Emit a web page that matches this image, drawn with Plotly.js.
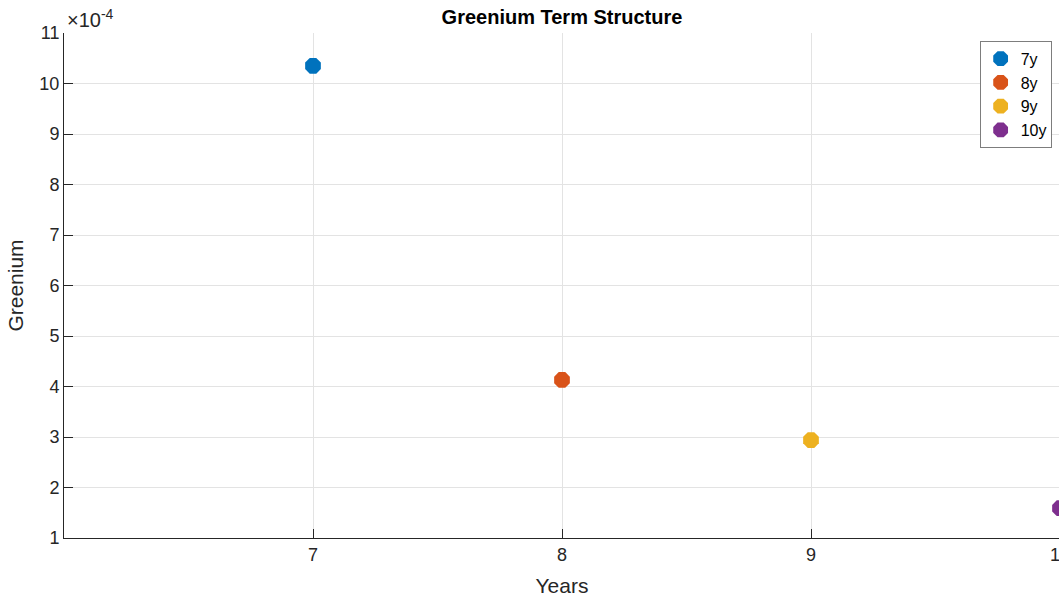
<!DOCTYPE html>
<html>
<head>
<meta charset="utf-8">
<script src="https://cdn.plot.ly/plotly-3.0.1.min.js"></script>
<style>
  html, body { margin: 0; padding: 0; overflow: hidden; background: #fff; }
  #chart { width: 1100px; height: 601px; }
</style>
</head>
<body>
<div id="chart"></div>
<script>
// Greenium by maturity bucket
const seriesNames = ['7y', '8y', '9y', '10y'];
const years = [7, 8, 9, 10];
const greenium = [0.001035, 0.000413, 0.000294, 0.000159];
const colors = ['#0072BD', '#D95319', '#EDB120', '#7E2F8E'];

const yTickVals = [1, 2, 3, 4, 5, 6, 7, 8, 9, 10, 11].map(v => v * 1e-4);
const yTickText = ['1', '2', '3', '4', '5', '6', '7', '8', '9', '10', '11'];
const xTickVals = [7, 8, 9, 10];
const xTickText = ['7', '8', '9', '10'];

const font = 'Liberation Sans, Arial, Helvetica, sans-serif';

const traces = seriesNames.map((name, i) => ({
  type: 'scatter',
  mode: 'markers',
  name: name,
  x: [years[i]],
  y: [greenium[i]],
  cliponaxis: true,
  marker: { symbol: 'octagon', size: 17, color: colors[i], line: { width: 0 } }
}));

const W = 1100;
const layout = {
  width: W,
  height: 601,
  margin: { l: 64, r: W - 1060, t: 33, b: 63, pad: 0 },
  paper_bgcolor: '#ffffff',
  plot_bgcolor: '#ffffff',
  font: { family: font, size: 18, color: '#262626' },
  title: {
    text: '<b>Greenium Term Structure</b>',
    font: { family: font, size: 20, color: '#000000' },
    x: 0.5, xref: 'paper', xanchor: 'center',
    y: 1, yref: 'paper', yanchor: 'bottom', pad: { b: 9 }
  },
  xaxis: {
    range: [6, 10],
    tickvals: xTickVals,
    ticktext: xTickText,
    ticks: 'inside',
    ticklen: 9,
    tickwidth: 1,
    tickcolor: '#262626',
    showline: true,
    linecolor: '#262626',
    linewidth: 1,
    mirror: false,
    showgrid: true,
    gridcolor: '#e3e3e3',
    gridwidth: 1,
    zeroline: false,
    tickfont: { family: font, size: 18, color: '#262626' },
    title: { text: 'Years', font: { family: font, size: 21, color: '#262626' }, standoff: 14 }
  },
  yaxis: {
    range: [1e-4, 11e-4],
    tickvals: yTickVals,
    ticktext: yTickText,
    ticks: 'inside',
    ticklen: 9,
    tickwidth: 1,
    tickcolor: '#262626',
    showline: true,
    linecolor: '#262626',
    linewidth: 1,
    mirror: false,
    showgrid: true,
    gridcolor: '#e3e3e3',
    gridwidth: 1,
    zeroline: false,
    tickfont: { family: font, size: 18, color: '#262626' },
    title: { text: 'Greenium', font: { family: font, size: 21, color: '#262626' }, standoff: 10 }
  },
  legend: {
    x: 0.992, xanchor: 'right',
    y: 0.984, yanchor: 'top',
    bgcolor: '#ffffff',
    bordercolor: '#262626',
    borderwidth: 0.6,
    font: { family: font, size: 16, color: '#000000' },
    itemwidth: 30,
    tracegroupgap: 0
  },
  annotations: [{
    text: '×10<sup>-4</sup>',
    xref: 'paper', yref: 'paper',
    x: 0, y: 1,
    xanchor: 'left', yanchor: 'bottom',
    xshift: 1, yshift: 0,
    showarrow: false,
    font: { family: font, size: 20, color: '#262626' }
  }]
};

Plotly.newPlot('chart', traces, layout, { staticPlot: true, displayModeBar: false });
</script>
</body>
</html>
